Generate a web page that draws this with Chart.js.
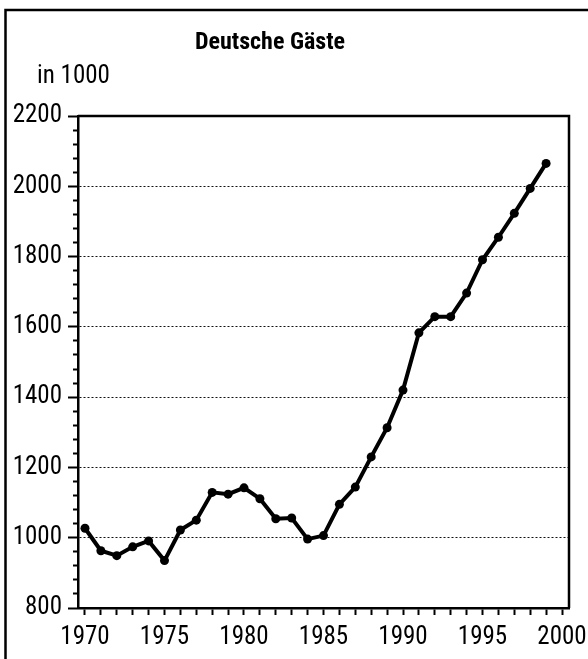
<!DOCTYPE html>
<html>
<head>
<meta charset="utf-8">
<script src="https://cdn.jsdelivr.net/npm/chart.js@4/dist/chart.umd.min.js"></script>
<style>
  html, body { margin: 0; padding: 0; background: #fff; }
  canvas { display: block; }
</style>
</head>
<body>
<canvas id="chart" width="588" height="659"></canvas>
<script>
const title = "Deutsche Gäste"
const unitLabel = "in 1000"

const years = [1970, 1971, 1972, 1973, 1974, 1975, 1976, 1977, 1978, 1979,
  1980, 1981, 1982, 1983, 1984, 1985, 1986, 1987, 1988, 1989,
  1990, 1991, 1992, 1993, 1994, 1995, 1996, 1997, 1998, 1999]
const guests = [1027, 963, 949, 974, 991, 935, 1022, 1050, 1129, 1124,
  1142, 1111, 1054, 1056, 996, 1006, 1095, 1144, 1230, 1313,
  1420, 1583, 1629, 1629, 1696, 1791, 1855, 1923, 1994, 2065]

const yTicksMajor = [800, 1000, 1200, 1400, 1600, 1800, 2000, 2200]
const xTickLabels = [1970, 1975, 1980, 1985, 1990, 1995, 2000]

const font = '"Liberation Sans Narrow", "Arial Narrow", "Roboto Condensed", "Liberation Sans", sans-serif'

// frame, plot border and the two headings
const decor = {
  id: "decor",
  beforeDraw(chart) {
    const ctx = chart.ctx
    ctx.save()
    ctx.strokeStyle = "#000"
    ctx.lineWidth = 2.5
    ctx.beginPath()
    ctx.moveTo(5.5, 659)
    ctx.lineTo(5.5, 10)
    ctx.lineTo(588, 10)
    ctx.stroke()
    ctx.restore()
  },
  afterDraw(chart) {
    const { ctx, chartArea: a } = chart
    ctx.save()
    ctx.strokeStyle = "#000"
    ctx.lineWidth = 2.5
    ctx.beginPath()
    ctx.moveTo(a.left, a.top)
    ctx.lineTo(a.right, a.top)
    ctx.lineTo(a.right, a.bottom)
    ctx.stroke()
    ctx.fillStyle = "#000"
    ctx.textBaseline = "alphabetic"
    ctx.font = `bold 24px ${font}`
    ctx.textAlign = "center"
    ctx.fillText(title, 270, 49)
    ctx.font = `25px ${font}`
    ctx.textAlign = "left"
    ctx.fillText(unitLabel, 37, 83)
    ctx.restore()
  }
}

const ctx = document.getElementById("chart").getContext("2d")
new Chart(ctx, {
  type: "line",
  data: {
    datasets: [{
      data: years.map((y, i) => ({ x: y, y: guests[i] })),
      borderColor: "#000",
      backgroundColor: "#000",
      borderWidth: 4,
      pointRadius: 4.5,
      pointBackgroundColor: "#000",
      pointBorderWidth: 0,
      tension: 0
    }]
  },
  options: {
    responsive: false,
    animation: false,
    layout: { padding: { top: 116, right: 19, left: 0, bottom: 0 } },
    plugins: { legend: { display: false }, tooltip: { enabled: false }, title: { display: false } },
    scales: {
      x: {
        type: "linear",
        min: 1969.56,
        max: 2000.44,
        afterFit(scale) {
          scale.height = 51
          scale.paddingRight = 0
          scale.paddingLeft = 0
        },
        border: { display: true, color: "#000", width: 2.5 },
        grid: { drawOnChartArea: false, drawTicks: true, tickLength: 7, tickColor: "#000", tickWidth: 2 },
        ticks: {
          stepSize: 1,
          autoSkip: false,
          includeBounds: false,
          maxRotation: 0,
          padding: 8,
          color: "#000",
          font: { family: font, size: 25 },
          callback: v => xTickLabels.includes(v) ? String(v) : ""
        }
      },
      y: {
        min: 800,
        max: 2200,
        afterFit(scale) { scale.width = 78 },
        border: { display: true, color: "#000", width: 2.5, dash: [2, 2] },
        grid: {
          drawOnChartArea: true,
          lineWidth: 1,
          color: c => (c.tick && c.tick.value % 200 === 0 && c.tick.value > 800 && c.tick.value < 2200) ? "#111" : "rgba(0,0,0,0)",
          tickLength: 10,
          tickColor: "#000",
          tickWidth: 2,
          tickBorderDash: c => (c.tick && yTicksMajor.includes(c.tick.value)) ? [] : [5, 5],
          tickBorderDashOffset: c => (c.tick && yTicksMajor.includes(c.tick.value)) ? 0 : 5
        },
        ticks: {
          stepSize: 40,
          autoSkip: false,
          padding: 6,
          color: "#000",
          font: { family: font, size: 25 },
          callback: v => yTicksMajor.includes(v) ? String(v) : ""
        }
      }
    }
  },
  plugins: [decor]
})
</script>
</body>
</html>
